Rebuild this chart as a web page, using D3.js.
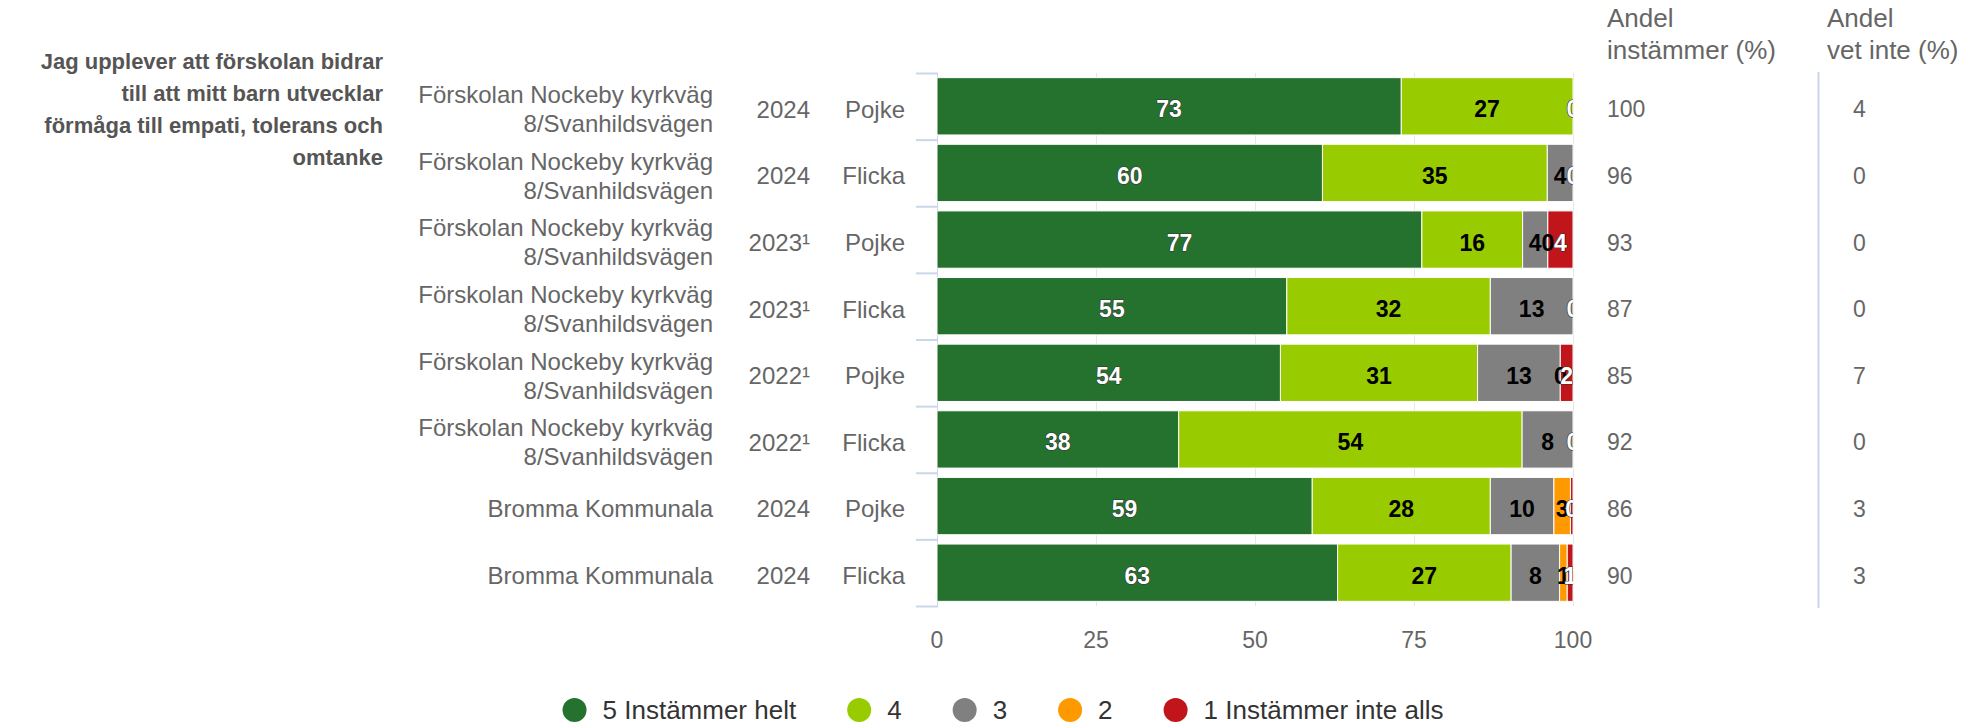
<!DOCTYPE html>
<html>
<head>
<meta charset="utf-8">
<script src="https://cdn.jsdelivr.net/npm/d3@7"></script>
<style>
  body { margin: 0; background: #fff; }
  svg { font-family: "Liberation Sans", Arial, Helvetica, sans-serif; display: block; }
</style>
</head>
<body>
<div id="chart"></div>
<script>
const question = ["Jag upplever att förskolan bidrar", "till att mitt barn utvecklar",
  "förmåga till empati, tolerans och", "omtanke"];

const schools = [
  ["Förskolan Nockeby kyrkväg", "8/Svanhildsvägen"],
  ["Förskolan Nockeby kyrkväg", "8/Svanhildsvägen"],
  ["Förskolan Nockeby kyrkväg", "8/Svanhildsvägen"],
  ["Förskolan Nockeby kyrkväg", "8/Svanhildsvägen"],
  ["Förskolan Nockeby kyrkväg", "8/Svanhildsvägen"],
  ["Förskolan Nockeby kyrkväg", "8/Svanhildsvägen"],
  ["Bromma Kommunala"],
  ["Bromma Kommunala"]
];
const years = ["2024", "2024", "2023¹", "2023¹", "2022¹", "2022¹", "2024", "2024"];
const genders = ["Pojke", "Flicka", "Pojke", "Flicka", "Pojke", "Flicka", "Pojke", "Flicka"];

const seriesNames = ["5 Instämmer helt", "4", "3", "2", "1 Instämmer inte alls"];
const seriesColors = ["#25722f", "#99cc00", "#808080", "#ff9900", "#c0151a"];
const labelColors = ["#ffffff", "#000000", "#000000", "#000000", "#ffffff"];

const s5 = [73, 60, 77, 55, 54, 38, 59, 62.8];
const s4 = [27, 35, 16, 32, 31, 54, 28, 27.2];
const s3 = [0, 4, 4, 13, 13, 8, 10, 7.6];
const s2 = [0, 0, 0, 0, 0, 0, 2.6, 1.2];
const s1 = [0, 0, 4, 0, 2, 0, 0.4, 0.9];

const andelInstammer = [100, 96, 93, 87, 85, 92, 86, 90];
const andelVetInte = [4, 0, 0, 0, 7, 0, 3, 3];
const xTicks = [0, 25, 50, 75, 100];

const width = 1968, height = 727;
const svg = d3.select("#chart").append("svg")
  .attr("width", width).attr("height", height);

const rows = d3.range(schools.length).map(i => ({
  i, s5: s5[i], s4: s4[i], s3: s3[i], s2: s2[i], s1: s1[i]
}));
const keys = ["s5", "s4", "s3", "s2", "s1"];
const stacked = d3.stack().keys(keys).offset(d3.stackOffsetExpand)(rows);

const x = d3.scaleLinear().domain([0, 100]).range([937, 1573]);
const y = d3.scaleBand().domain(d3.range(rows.length)).range([73, 606])
  .paddingInner(0.14).paddingOuter(0.07);
const rowTop = i => 73 + i * y.step();
const rowMid = i => y(i) + y.bandwidth() / 2;

// gridlines
svg.append("g").selectAll("line").data(xTicks).join("line")
  .attr("x1", d => x(d) + 0.5).attr("x2", d => x(d) + 0.5)
  .attr("y1", 73).attr("y2", 606)
  .attr("stroke", "#e6e6e6");

// category axis line + ticks
svg.append("line")
  .attr("x1", 937.5).attr("x2", 937.5).attr("y1", 73).attr("y2", 606)
  .attr("stroke", "#ccd6eb");
svg.append("g").selectAll("line").data(d3.range(rows.length + 1)).join("line")
  .attr("x1", 916).attr("x2", 938)
  .attr("y1", d => rowTop(d) + 0.5).attr("y2", d => rowTop(d) + 0.5)
  .attr("stroke", "#ccd6eb").attr("stroke-width", 2);

// bars
const barG = svg.append("g");
stacked.forEach((layer, k) => {
  barG.append("g").selectAll("rect").data(layer).join("rect")
    .attr("x", d => x(d[0] * 100))
    .attr("width", d => Math.max(0, x(d[1] * 100) - x(d[0] * 100)))
    .attr("y", (d, i) => y(i))
    .attr("height", y.bandwidth())
    .attr("fill", seriesColors[k])
    .attr("stroke", "#fff").attr("stroke-width", 1);
});

// data labels, clipped to plot
svg.append("clipPath").attr("id", "plotclip")
  .append("rect").attr("x", 937).attr("y", 60).attr("width", 636).attr("height", 560);
const lblG = svg.append("g").attr("clip-path", "url(#plotclip)");
stacked.forEach((layer, k) => {
  lblG.append("g").selectAll("text").data(layer).join("text")
    .attr("x", d => x((d[0] + d[1]) / 2 * 100))
    .attr("y", (d, i) => rowMid(i) + 3)
    .attr("dy", "0.35em")
    .attr("text-anchor", "middle")
    .style("font-size", "23px").style("font-weight", "bold")
    .attr("fill", labelColors[k])
    .attr("stroke", labelColors[k] === "#ffffff" ? "#333" : "none")
    .attr("stroke-width", 1.2)
    .style("paint-order", "stroke")
    .text(d => Math.round(d.data[keys[k]]));
});

// x axis labels
svg.append("g").selectAll("text").data(xTicks).join("text")
  .attr("x", d => x(d)).attr("y", 640).attr("dy", "0.35em")
  .attr("text-anchor", "middle")
  .style("font-size", "23px").attr("fill", "#666")
  .text(d => d);

// category labels
const catG = svg.append("g").style("font-size", "24px").attr("fill", "#666");
schools.forEach((lines, i) => {
  const t = catG.append("text").attr("text-anchor", "end");
  const lh = 29, y0 = rowMid(i) + 3 - (lines.length - 1) * lh / 2;
  lines.forEach((ln, j) => t.append("tspan").attr("x", 713).attr("y", y0 + j * lh).attr("dy", "0.35em").text(ln));
  catG.append("text").attr("x", 810).attr("y", rowMid(i) + 3).attr("dy", "0.35em")
    .attr("text-anchor", "end").text(years[i]);
  catG.append("text").attr("x", 905).attr("y", rowMid(i) + 3).attr("dy", "0.35em")
    .attr("text-anchor", "end").text(genders[i]);
});

// question text
const qt = svg.append("text").attr("text-anchor", "end")
  .style("font-size", "22px").style("font-weight", "bold").attr("fill", "#555");
question.forEach((ln, j) => qt.append("tspan").attr("x", 383).attr("y", 61 + j * 32).attr("dy", "0.35em").text(ln));

// right-hand columns
const colG = svg.append("g").attr("fill", "#666");
[["Andel", "instämmer (%)"], ["Andel", "vet inte (%)"]].forEach((h, c) => {
  const t = colG.append("text").style("font-size", "26px");
  h.forEach((ln, j) => t.append("tspan").attr("x", c ? 1827 : 1607).attr("y", 18 + j * 32).attr("dy", "0.35em").text(ln));
});
colG.append("line").attr("x1", 1818.5).attr("x2", 1818.5).attr("y1", 72).attr("y2", 608)
  .attr("stroke", "#ccd6eb").attr("stroke-width", 2);
colG.selectAll(".v1").data(andelInstammer).join("text")
  .attr("x", 1607).attr("y", (d, i) => rowMid(i) + 3).attr("dy", "0.35em")
  .style("font-size", "23px").text(d => d);
colG.selectAll(".v2").data(andelVetInte).join("text")
  .attr("x", 1853).attr("y", (d, i) => rowMid(i) + 3).attr("dy", "0.35em")
  .style("font-size", "23px").text(d => d);

// legend
const leg = svg.append("g");
const legGap = 51;
let lx = 0;
seriesNames.forEach((name, k) => {
  const g = leg.append("g").attr("transform", `translate(${lx},0)`);
  g.append("circle").attr("cx", 12).attr("cy", 0).attr("r", 12).attr("fill", seriesColors[k]);
  const t = g.append("text").attr("x", 40).attr("y", 0).attr("dy", "0.35em")
    .style("font-size", "26px").attr("fill", "#333").text(name);
  lx += 40 + t.node().getComputedTextLength() + legGap;
});
const legW = lx - legGap;
leg.attr("transform", `translate(${1003 - legW / 2},710)`);
</script>
</body>
</html>
